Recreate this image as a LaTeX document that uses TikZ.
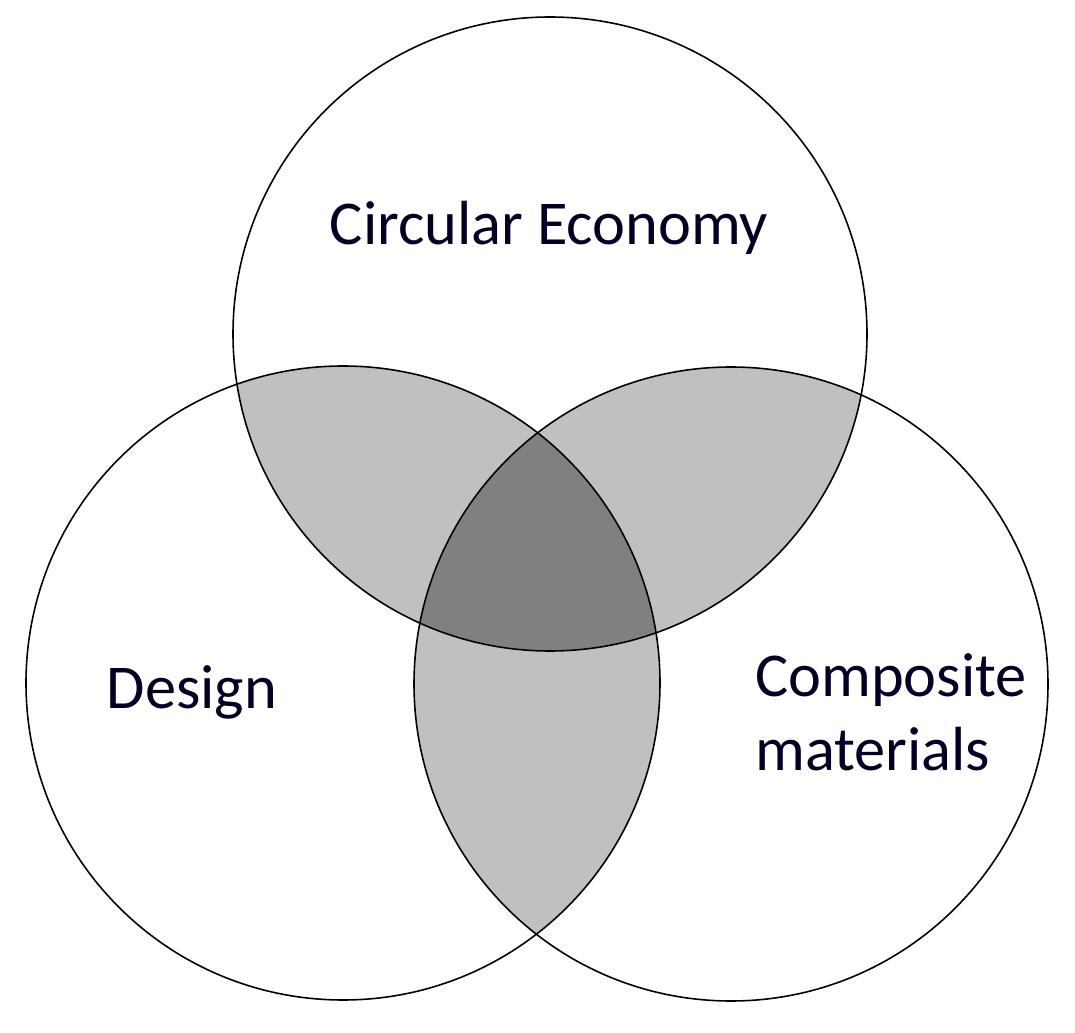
\documentclass[tikz,border=0pt]{standalone}
\usepackage{fontspec}
\setmainfont{Carlito}
\definecolor{lg}{RGB}{192,192,192}
\definecolor{dg}{RGB}{128,128,128}
\tikzset{ring/.style={draw=black,line width=0.9pt},lbl/.style={font=\fontsize{35.5}{42}\selectfont,text=black!85!blue,align=left}}
\begin{document}
\begin{tikzpicture}[x=0.02cm,y=-0.02cm]
\useasboundingbox (0,0) rectangle (1075,1033);
\def\R{317}
\coordinate (ct) at (550,334);
\coordinate (cl) at (343,683);
\coordinate (cr) at (731,684);
\begin{scope}\clip (ct) circle (\R); \fill[lg] (cl) circle (\R); \fill[lg] (cr) circle (\R);\end{scope}
\begin{scope}\clip (cl) circle (\R); \fill[lg] (cr) circle (\R);\end{scope}
\begin{scope}\clip (ct) circle (\R); \clip (cl) circle (\R); \fill[dg] (cr) circle (\R);\end{scope}
\draw[ring] (ct) circle (\R);
\draw[ring] (cl) circle (\R);
\draw[ring] (cr) circle (\R);
\node[lbl] (tce) at (549,228) {Circular Economy};
\node[lbl] (td) at (192,692) {Design};
\node[lbl] (tcm) at (891,712) {Composite\\materials};
\end{tikzpicture}
\end{document}
